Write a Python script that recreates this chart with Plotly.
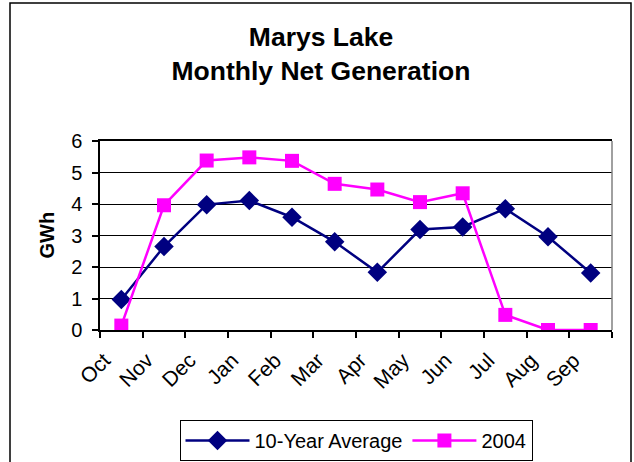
import plotly.graph_objects as go

months = ["Oct", "Nov", "Dec", "Jan", "Feb", "Mar", "Apr", "May", "Jun", "Jul", "Aug", "Sep"]
ten_year_avg = [0.97, 2.65, 3.98, 4.11, 3.58, 2.80, 1.83, 3.19, 3.27, 3.85, 2.96, 1.81]
gen_2004 = [0.14, 3.96, 5.38, 5.48, 5.37, 4.64, 4.46, 4.06, 4.34, 0.48, 0.0, 0.0]
y_ticks = [0, 1, 2, 3, 4, 5, 6]

FONT = "Liberation Sans, Arial, sans-serif"

# layout geometry (pixels)
W, H = 634, 462
L, R, T, B = 100, 22, 141, 132
PW, PH = W - L - R, H - T - B

def px_x(x):
    return (x - L) / PW

def px_y(y):
    return (H - B - y) / PH

fig = go.Figure()
fig.add_trace(go.Scatter(
    x=months, y=ten_year_avg, name="10-Year Average", mode="lines+markers",
    line=dict(color="#000080", width=2.5),
    marker=dict(symbol="diamond", size=15, color="#000080"),
))
fig.add_trace(go.Scatter(
    x=months, y=gen_2004, name="2004", mode="lines+markers",
    line=dict(color="#FF00FF", width=2.5),
    marker=dict(symbol="square", size=14, color="#FF00FF"),
))

fig.update_layout(
    width=W, height=H,
    margin=dict(l=L, r=R, t=T, b=B, pad=0, autoexpand=False),
    paper_bgcolor="white", plot_bgcolor="white",
    font=dict(family=FONT, color="black"),
    title=dict(
        text="<b>Marys Lake<br>Monthly Net Generation</b>",
        font=dict(family=FONT, size=26.5, color="black"),
        x=321 / W, xanchor="center", xref="container",
        y=1 - 46 / H, yanchor="middle", yref="container",
        automargin=False,
    ),
    showlegend=True,
    legend=dict(
        orientation="h", x=0.5, xanchor="center", y=px_y(420), yanchor="top",
        bordercolor="black", borderwidth=1, bgcolor="white",
        font=dict(family=FONT, size=20, color="black"),
        itemwidth=64,
        tracegroupgap=0,
    ),
    xaxis=dict(
        type="category", categoryorder="array", categoryarray=months,
        range=[-0.5, 11.5], automargin=False,
        showgrid=False, showline=True, linecolor="black", linewidth=1.5,
        mirror=True,
        ticks="outside", ticklen=6, tickcolor="black", tickwidth=1.5,
        tickson="boundaries", tickangle=-45,
        ticklabelshift=-17, ticklabelstandoff=8,
        tickfont=dict(family=FONT, size=21, color="black"),
    ),
    yaxis=dict(
        range=[0, 6], tickvals=y_ticks, ticktext=[str(v) for v in y_ticks],
        automargin=False,
        showgrid=True, gridcolor="black", gridwidth=1,
        showline=True, linecolor="black", linewidth=1.5,
        ticks="outside", ticklen=6, tickcolor="black", tickwidth=1.5,
        tickfont=dict(family=FONT, size=20, color="black"),
        ticklabelstandoff=6,
        zeroline=False,
    ),
    shapes=[
        dict(type="line", xref="paper", yref="paper", x0=1, x1=1, y0=0, y1=1,
             line=dict(color="#808080", width=1.5)),
        dict(type="rect", xref="paper", yref="paper",
             x0=px_x(10), x1=px_x(631), y0=px_y(475), y1=px_y(3),
             line=dict(color="black", width=1.5), layer="below"),
    ],
    annotations=[
        dict(text="<b>GWh</b>", xref="paper", yref="paper", x=px_x(46), y=0.5,
             showarrow=False, textangle=-90, xanchor="center", yanchor="middle",
             font=dict(family=FONT, size=20, color="black")),
    ],
)

fig.write_html("out.html", config={"displayModeBar": False},
               post_script="document.body.style.margin='0';")
